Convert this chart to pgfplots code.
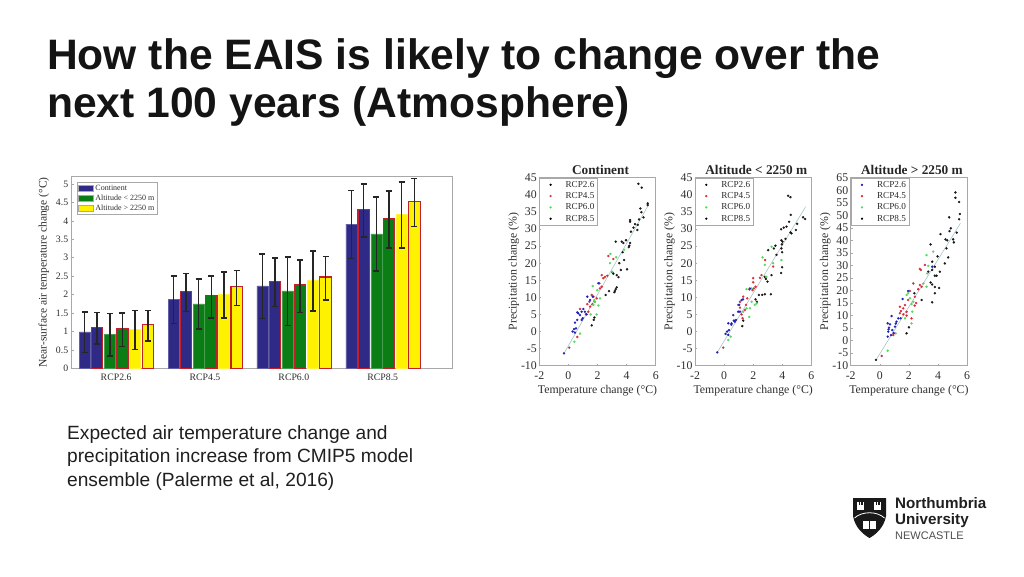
\documentclass[border=0pt]{standalone}
\usepackage{fontspec}
\setmainfont{Liberation Sans}
\newfontfamily\tm{Liberation Serif}
\usepackage{pgfplots}
\pgfplotsset{compat=1.18}
\definecolor{bblue}{HTML}{2F2A85}
\definecolor{bgreen}{HTML}{0A7D14}
\definecolor{byellow}{HTML}{FFF200}
\definecolor{bred}{HTML}{C4202C}
\definecolor{axgray}{HTML}{A8A8A8}
\definecolor{txt}{HTML}{2E2E2E}
\definecolor{ptblue}{HTML}{2222B8}
\definecolor{ptred}{HTML}{D8303A}
\definecolor{ptgreen}{HTML}{55D860}
\definecolor{trend}{HTML}{A8C4C4}
\pgfplotsset{
  barS/.style={ybar,bar width=11.2pt,bar shift=0pt,fill=#1,draw=#1!75!white,line width=0.5pt,
    error bars/.cd,y dir=both,y explicit,
    error bar style={line width=1.4pt,black!85},
    error mark options={rotate=90,mark size=3pt,line width=1.4pt,black!85}},
  barR/.style={ybar,bar width=11.4pt,bar shift=0pt,fill=#1,draw=bred,line width=1.2pt,
    error bars/.cd,y dir=both,y explicit,
    error bar style={line width=1.4pt,black!85},
    error mark options={rotate=90,mark size=3pt,line width=1.4pt,black!85}},
  scat/.style={
    scale only axis,width=116.4pt,height=188pt,
    xmin=-2,xmax=6,xtick={-2,0,2,4,6},
    axis line style={axgray,line width=0.8pt},
    tick style={axgray,line width=0.5pt},tick align=inside,major tick length=2pt,
    xtick pos=bottom,ytick pos=left,
    /pgf/number format/assume math mode=true,
    tick label style={font=\tm\fontsize{11.8}{12}\selectfont,text=txt},
    xticklabel style={yshift=-2.5pt},
    yticklabel style={xshift=1pt},
    label style={font=\tm\fontsize{11.8}{12}\selectfont,text=txt},
    xlabel={Temperature change (°C)},
    ylabel={Precipitation change (\%)},
    xlabel style={yshift=1.5pt},
    ylabel style={yshift=-5pt},
    title style={font=\tm\bfseries\fontsize{13.3}{14}\selectfont,text=black!85,yshift=-6.5pt,xshift=3pt},
    legend style={at={(0,1)},anchor=north west,draw=axgray,line width=0.6pt,
      font=\tm\fontsize{9.2}{9.6}\selectfont,text=txt,inner sep=1pt,
      row sep=-0.3pt,cells={anchor=west},legend columns=1},
    legend cell align=left,
    legend image code/.code={\path[draw=none,fill=none] (0pt,0pt) rectangle (23pt,0pt);\path[##1] plot[only marks] coordinates {(10pt,0pt)};},
  },
  pb/.style={only marks,mark=*,mark size=1pt,ptblue,forget plot},
  pr/.style={only marks,mark=*,mark size=1pt,ptred,forget plot},
  pg/.style={only marks,mark=*,mark size=1pt,ptgreen,forget plot},
  pk/.style={only marks,mark=*,mark size=1pt,black!90,forget plot},
}
\begin{document}
\begin{tikzpicture}[x=1pt,y=1pt]
\path (0,0) rectangle (1024,576);
% Slide title and text
\node[anchor=base west,inner sep=0,font=\bfseries\fontsize{42.6}{43}\selectfont,text=black!92] at (47,506) {How the EAIS is likely to change over the};
\node[anchor=base west,inner sep=0,font=\bfseries\fontsize{42.6}{43}\selectfont,text=black!92] at (47,458) {next 100 years (Atmosphere)};
\node[anchor=base west,inner sep=0,font=\fontsize{19.15}{19}\selectfont,text=black!88] at (67,137) {Expected air temperature change and};
\node[anchor=base west,inner sep=0,font=\fontsize{19.15}{19}\selectfont,text=black!88] at (67,114) {precipitation increase from CMIP5 model};
\node[anchor=base west,inner sep=0,font=\fontsize{19.15}{19}\selectfont,text=black!88] at (67,90) {ensemble (Palerme et al, 2016)};

% Bar chart
\begin{axis}[at={(71.7pt,207.6pt)},anchor=south west,scale only axis,width=380.6pt,height=191.8pt,
  xmin=-0.5,xmax=3.783,ymin=0,ymax=5.2,
  xtick={0,1,2,3},xticklabels={RCP2.6,RCP4.5,RCP6.0,RCP8.5},
  ytick={0,0.5,1,1.5,2,2.5,3,3.5,4,4.5,5},
  yticklabels={0,0.5,1,1.5,2,2.5,3,3.5,4,4.5,5},
  axis line style={axgray,line width=0.8pt},
  tick style={axgray,line width=0.5pt},tick align=inside,major tick length=2.5pt,
  xtick pos=bottom,ytick pos=left,xtick style={draw=none},
  tick label style={font=\tm\fontsize{9.8}{10}\selectfont,text=txt},
  xticklabel style={yshift=-2.5pt},
  ylabel={Near-surface air temperature change (°C)},
  ylabel style={font=\tm\fontsize{11.5}{12}\selectfont,text=txt,yshift=0pt},
  legend style={at={(0.0135,0.974)},anchor=north west,draw=axgray,line width=0.6pt,
    font=\tm\fontsize{8}{8.5}\selectfont,text=txt,inner sep=1pt,row sep=-1pt,
    cells={anchor=west}},
  legend image code/.code={\fill[#1,draw=axgray,line width=0.3pt] (-2pt,-3.2pt) rectangle (13pt,3.2pt);},
]
\addlegendimage{fill=bblue}\addlegendentry{Continent}
\addlegendimage{fill=bgreen}\addlegendentry{Altitude < 2250 m}
\addlegendimage{fill=byellow}\addlegendentry{Altitude > 2250 m}
\addplot[forget plot,barS=bblue] coordinates {
 (-0.353,0.99) += (0,0.54) -= (0,0.56)
 (0.647,1.88) += (0,0.63) -= (0,0.66)
 (1.647,2.24) += (0,0.86) -= (0,0.88)
 (2.647,3.91) += (0,0.92) -= (0,0.93)};
\addplot[forget plot,barR=bblue] coordinates {
 (-0.214,1.11) += (0,0.41) -= (0,0.45)
 (0.786,2.09) += (0,0.48) -= (0,0.54)
 (1.786,2.36) += (0,0.63) -= (0,0.68)
 (2.786,4.31) += (0,0.69) -= (0,0.75)};
\addplot[forget plot,barS=bgreen] coordinates {
 (-0.071,0.92) += (0,0.57) -= (0,0.58)
 (0.929,1.75) += (0,0.67) -= (0,0.68)
 (1.929,2.10) += (0,0.92) -= (0,0.94)
 (2.929,3.65) += (0,1.00) -= (0,1.01)};
\addplot[forget plot,barR=bgreen] coordinates {
 (0.071,1.08) += (0,0.42) -= (0,0.48)
 (1.071,1.97) += (0,0.53) -= (0,0.60)
 (2.071,2.26) += (0,0.68) -= (0,0.74)
 (3.071,4.07) += (0,0.74) -= (0,0.81)};
\addplot[forget plot,barS=byellow] coordinates {
 (0.214,1.06) += (0,0.51) -= (0,0.54)
 (1.214,2.00) += (0,0.61) -= (0,0.63)
 (2.214,2.38) += (0,0.80) -= (0,0.82)
 (3.214,4.17) += (0,0.88) -= (0,0.91)};
\addplot[forget plot,barR=byellow] coordinates {
 (0.357,1.18) += (0,0.39) -= (0,0.44)
 (1.357,2.21) += (0,0.45) -= (0,0.50)
 (2.357,2.48) += (0,0.55) -= (0,0.63)
 (3.357,4.52) += (0,0.63) -= (0,0.68)};
\end{axis}

% Continent
\begin{axis}[scat,at={(539.3pt,210.3pt)},anchor=south west,
  title={Continent},
  ymin=-10,ymax=45,ytick={-10,-5,...,45}]
\addlegendimage{mark=*,mark size=0.8pt,black}\addlegendentry{RCP2.6}
\addlegendimage{mark=*,mark size=0.8pt,ptred}\addlegendentry{RCP4.5}
\addlegendimage{mark=*,mark size=0.8pt,ptgreen}\addlegendentry{RCP6.0}
\addlegendimage{mark=*,mark size=0.8pt,black}\addlegendentry{RCP8.5}
\addplot[trend,line width=0.6pt,forget plot] coordinates {(-0.3,-6.4) (5.5,37)};
\addplot[pk] coordinates {(4.81,43.2)(5.04,42.1)(5.45,37.5)(5.45,37)(4.95,36)(5.02,34.9)(5.16,33.4)(4.86,32.8)(4.24,32.6)(4.24,32.1)(4.58,31.4)(4.77,31.2)(4.47,30.4)(4.74,29.7)(4.3,29.2)(3.25,26.3)(3.67,26.3)(3.78,25.9)(3.96,26.7)(4.24,25.9)(4.19,25.1)(4.15,24.7)(3.73,23.2)(3.83,20.9)(3.5,20)(3.6,18)(4.03,18.2)(3.02,17.3)(3.09,16.9)(3.32,16.5)(3.44,15.9)(2.56,10.7)(2.79,11.8)(3.32,12.9)(3.25,12.4)(3.2,11.9)(3.16,11.5)(1.6,1.8)(1.74,3.4)(1.78,4.1)};
\addplot[pr] coordinates {(2.75,22.1)(3.09,21.2)(2.29,16.5)(2.52,16)(2.68,16.3)(2.4,15.6)(2.13,14.1)(2.29,13.1)(2.17,12.6)(1.6,10.7)(1.72,10.2)(1.44,8.7)(1.3,8)(1.49,7.3)(1.37,5.8)(1.2,5.1)(0.8,6.6)(0.06,-4.7)(0.61,-1.6)(1.65,8)(1.8,8.7)(1.95,9.7)};
\addplot[pg] coordinates {(2.89,22.7)(3.28,21.7)(2.86,20)(3,17.5)(3.83,23.9)(1.67,13.3)(1.99,12.1)(0.8,-0.6)(0.41,-3)(2.17,9.7)(1.83,8.7)(1.72,7.8)(2.06,7.6)(1.94,5)(1.53,5)(1.78,9.2)};
\addplot[pb] coordinates {(-0.3,-6.4)(0.39,0.7)(0.29,0)(0.45,-0.3)(0.52,0.9)(0.45,2.6)(0.61,3.4)(0.91,3.4)(0.98,3.9)(0.68,5.3)(0.91,5.8)(1.03,6.6)(0.8,4.8)(1.3,10.2)(1.67,10.2)(2.06,14.1)(1.49,9.2)(1.13,5.8)(0.61,5.6)(1.25,5)};
\end{axis}

% Altitude < 2250
\begin{axis}[scat,at={(695pt,210.3pt)},anchor=south west,
  title={Altitude < 2250 m},
  ymin=-10,ymax=45,ytick={-10,-5,...,45}]
\addlegendimage{mark=*,mark size=0.8pt,black}\addlegendentry{RCP2.6}
\addlegendimage{mark=*,mark size=0.8pt,ptred}\addlegendentry{RCP4.5}
\addlegendimage{mark=*,mark size=0.8pt,ptgreen}\addlegendentry{RCP6.0}
\addlegendimage{mark=*,mark size=0.8pt,black}\addlegendentry{RCP8.5}
\addplot[trend,line width=0.6pt,forget plot] coordinates {(-0.47,-6.1) (5.6,36.5)};
\addplot[pk] coordinates {(4.4,39.7)(4.56,39.3)(4.58,34.1)(5.43,33.4)(5.57,32.9)(4.47,32.1)(5.02,31.5)(4.29,30.7)(4.1,30.4)(3.92,29.9)(4.93,29.7)(4.56,29)(4.63,28.7)(4.22,27.1)(3.94,26.7)(4.01,26.3)(3.97,25.5)(3.53,25.1)(3.42,24.3)(3.03,23.8)(3.6,22.4)(3.94,24.3)(3.99,23.2)(3.99,18.8)(3.92,17.1)(3.26,16.5)(2.8,16)(2.87,15.4)(2.98,14.6)(3.21,10.9)(2.8,10.9)(2.62,10.7)(2.39,10.7)(2.16,9.4)(2.25,8.7)(1.31,3.2)(1.25,1.6)};
\addplot[pr] coordinates {(2.82,20.9)(3.37,19)(2.57,16.5)(2.46,15.7)(2,15.6)(2,14.4)(2.16,13.1)(2.05,12.6)(1.95,12.1)(1.73,12.3)(1.31,10.2)(1.59,9.7)(1.09,8.7)(0.97,7.8)(1.09,7)(1.5,7.8)(1.43,6.3)(1.2,5)(-0.06,-4.7)(1.27,3.9)};
\addplot[pg] coordinates {(3.26,24.8)(2.64,21.7)(2.8,19.5)(3.37,20)(3.94,20.9)(1.54,12.4)(1.89,12.6)(2.23,8.2)(2.11,7.8)(1.77,6.8)(1.54,6.8)(1.73,4.3)(0.29,-2.5)(0.45,-1.5)(1.31,5.8)(1.89,8.7)(2.91,16)};
\addplot[pb] coordinates {(-0.47,-6.1)(0.1,-0.7)(0.33,0.4)(0.29,2.4)(0.51,2.4)(0.67,3.2)(0.81,3.4)(0.63,4.8)(1.09,5.8)(1.04,7.8)(1.2,9.2)(1.3,9.4)(1.77,12.6)(0.5,2)(0.97,5.8)(0.2,0)(0.29,-1)(0.74,2.9)};
\end{axis}

% Altitude > 2250
\begin{axis}[scat,at={(850.7pt,210.3pt)},anchor=south west,
  title={Altitude > 2250 m},
  ymin=-10,ymax=65,ytick={-10,-5,...,65}]
\addlegendimage{mark=*,mark size=0.8pt,ptblue}\addlegendentry{RCP2.6}
\addlegendimage{mark=*,mark size=0.8pt,ptred}\addlegendentry{RCP4.5}
\addlegendimage{mark=*,mark size=0.8pt,ptgreen}\addlegendentry{RCP6.0}
\addlegendimage{mark=*,mark size=0.8pt,black}\addlegendentry{RCP8.5}
\addplot[trend,line width=0.6pt,forget plot] coordinates {(-0.26,-7.7) (5.54,46.8)};
\addplot[pk] coordinates {(5.2,59.1)(5.2,57)(5.45,55.3)(5.5,50.5)(5.45,48.4)(4.77,49.2)(4.88,44.8)(4.79,43.7)(5.29,43.1)(4.17,42.5)(4.51,40.4)(4.63,40)(5.04,40.4)(5.09,39.2)(4.58,36.8)(4.7,33.2)(4.47,30.8)(3.49,38.4)(3.97,33.6)(3.6,31.5)(3.78,29.5)(3.6,28.2)(3.33,27.5)(4.13,27.5)(3.78,25.9)(3.9,25.9)(3.49,23.2)(3.6,22.4)(3.78,21.4)(4.08,21)(3.78,18.9)(3.6,15.3)(2.87,16.2)(2.37,18.9)(1.84,2.9)(2,5.3)(-0.26,-7.7)};
\addplot[pr] coordinates {(2.75,28.6)(2.82,28.2)(3.1,30.2)(2.3,22.8)(2.75,22.2)(2.87,21.5)(2.64,20.5)(2.07,19.8)(2.41,17.5)(1.95,16.2)(1.73,14.2)(1.61,12.9)(1.45,11.8)(1.38,10.9)(1.61,10.5)(1.84,10)(2.18,8.9)(0.93,2.2)(0.13,-6.1)(1.84,11.5)(1.38,13.5)(2.4,14)(2.5,15)};
\addplot[pg] coordinates {(3.21,34.1)(3.67,35.5)(3.33,29.8)(3.26,26.8)(3,22.8)(3.21,21.5)(1.95,18.9)(1.84,18.2)(2.3,15.5)(2.18,14.6)(2.23,11.6)(2.18,6.9)(0.54,-4)(1.09,2.9)(1.73,8.9)(2.07,16.9)};
\addplot[pb] coordinates {(0.81,9.8)(0.54,6.9)(0.63,5.2)(1.04,5.6)(0.86,4.2)(0.58,3.6)(0.54,1.6)(0.77,2.2)(1.15,7.6)(1.27,8.9)(1.57,16.6)(3.6,29.5)(1.95,19.8)(1.43,8.9)(0.6,4.5)(0.95,3)(0.7,6.5)(1.1,6.8)};
\end{axis}

% Logo
\fill[black!90] (853,78) -- (853,60) .. controls (855,48) and (864,41) .. (869.5,38) .. controls (875,41) and (884,48) .. (886,60) -- (886,78) -- cycle;
\foreach \cx in {860.5,877.5}{
  \fill[white] (\cx-3.5,66) rectangle (\cx+3.5,71);
  \fill[white] (\cx-3.5,71) rectangle (\cx-2,74);
  \fill[white] (\cx-0.7,71) rectangle (\cx+0.7,74);
  \fill[white] (\cx+2,71) rectangle (\cx+3.5,74);
}
\draw[white,line width=0.8pt] (854.5,58) .. controls (862,65) and (877,65) .. (884.5,58);
\fill[white] (863,47) rectangle (876,55);
\draw[black!90,line width=0.6pt] (869.5,47) -- (869.5,55);
\node[anchor=base west,inner sep=0,font=\bfseries\fontsize{15.2}{15}\selectfont,text=black!88] at (895,68) {Northumbria};
\node[anchor=base west,inner sep=0,font=\bfseries\fontsize{15.2}{15}\selectfont,text=black!88] at (895,52) {University};
\node[anchor=base west,inner sep=0,font=\fontsize{11}{11}\selectfont,text=black!70] at (895,37) {NEWCASTLE};
\end{tikzpicture}
\end{document}
